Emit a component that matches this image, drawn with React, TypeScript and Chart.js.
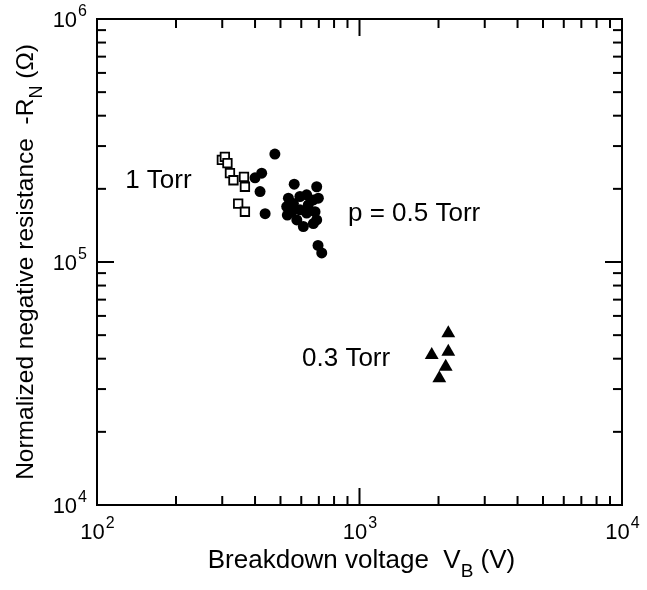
import React, { useEffect, useRef } from "react";
import { Chart, registerables } from "chart.js";

Chart.register(...registerables);

// 1 Torr (open squares)
const torr1V = [299, 307, 314, 321, 331, 363, 366, 345, 366];
const torr1R = [263000, 271000, 255000, 232000, 217000, 224000, 204000, 174000, 161000];

// p = 0.5 Torr (filled circles)
const torr05V = [476, 424, 400, 418, 437, 564, 687, 536, 528, 531, 560, 593, 629, 667, 697, 593, 629, 677, 687, 611, 667, 577, 638, 552, 695, 718];
const torr05R = [278000, 232000, 222000, 195000, 158000, 209000, 204000, 183000, 169000, 156000, 174000, 186000, 189000, 180000, 183000, 164000, 159000, 161000, 149000, 140000, 144000, 149000, 172000, 161000, 117000, 109000];

// 0.3 Torr (filled triangles)
const torr03V = [2179, 1884, 2179, 2130, 2014];
const torr03R = [50900, 41400, 42760, 37080, 33220];

// Axes
const xMajorTicks = [100, 1000, 10000];
const xMajorExps = ["2", "3", "4"];
const xMinorTicks = [200, 300, 400, 500, 600, 700, 800, 900, 2000, 3000, 4000, 5000, 6000, 7000, 8000, 9000];
const yMajorTicks = [10000, 100000, 1000000];
const yMajorExps = ["4", "5", "6"];
const yMinorTicks = [20000, 30000, 40000, 50000, 60000, 70000, 80000, 90000, 200000, 300000, 400000, 500000, 600000, 700000, 800000, 900000];

// Annotations
const noteTexts = ["1 Torr", "p = 0.5 Torr", "0.3 Torr"];
const noteV = [128, 904, 604];
const noteR = [201600, 147500, 37330];

const FONT = "'Liberation Sans', Arial, Helvetica, sans-serif";

const toPts = (xs: number[], ys: number[]) => xs.map((x, i) => ({ x, y: ys[i] }));

const framePlugin = {
  id: "frame",
  afterDatasetsDraw(chart: any) {
    const { ctx, chartArea: a, scales } = chart;
    const xs = scales.x;
    const ys = scales.y;
    ctx.save();
    ctx.strokeStyle = "#000";
    ctx.fillStyle = "#000";
    ctx.lineWidth = 2;
    ctx.strokeRect(a.left, a.top, a.right - a.left, a.bottom - a.top);

    const line = (x1: number, y1: number, x2: number, y2: number) => {
      ctx.beginPath();
      ctx.moveTo(x1, y1);
      ctx.lineTo(x2, y2);
      ctx.stroke();
    };
    const MAJ = 17;
    const MIN = 9;
    xMajorTicks.forEach((v) => {
      const p = xs.getPixelForValue(v);
      line(p, a.bottom, p, a.bottom - MAJ);
      line(p, a.top, p, a.top + MAJ);
    });
    xMinorTicks.forEach((v) => {
      const p = xs.getPixelForValue(v);
      line(p, a.bottom, p, a.bottom - MIN);
      line(p, a.top, p, a.top + MIN);
    });
    yMajorTicks.forEach((v) => {
      const p = ys.getPixelForValue(v);
      line(a.left, p, a.left + MAJ, p);
      line(a.right, p, a.right - MAJ, p);
    });
    yMinorTicks.forEach((v) => {
      const p = ys.getPixelForValue(v);
      line(a.left, p, a.left + MIN, p);
      line(a.right, p, a.right - MIN, p);
    });

    // tick labels
    const baseFont = `22px ${FONT}`;
    const supFont = `16px ${FONT}`;
    const measure = (t: string, f: string) => {
      ctx.font = f;
      return ctx.measureText(t).width;
    };
    ctx.textBaseline = "alphabetic";
    ctx.textAlign = "left";
    xMajorTicks.forEach((v, i) => {
      const p = xs.getPixelForValue(v);
      const w1 = measure("10", baseFont);
      const w2 = measure(xMajorExps[i], supFont);
      const x0 = p - (w1 + w2) / 2;
      const by = a.bottom + 34;
      ctx.font = baseFont;
      ctx.fillText("10", x0, by);
      ctx.font = supFont;
      ctx.fillText(xMajorExps[i], x0 + w1 + 1, by - 11);
    });
    yMajorTicks.forEach((v, i) => {
      const p = ys.getPixelForValue(v);
      const w1 = measure("10", baseFont);
      const w2 = measure(yMajorExps[i], supFont);
      const right = a.left - 10;
      const x0 = right - w1 - w2 - 1;
      const by = p + 8;
      ctx.font = baseFont;
      ctx.fillText("10", x0, by);
      ctx.font = supFont;
      ctx.fillText(yMajorExps[i], x0 + w1 + 1, by - 11);
    });

    const drawParts = (parts: any[], cx: number, by: number) => {
      const total = parts.reduce((s: number, p: any) => s + measure(p.t, p.f), 0);
      let x = cx - total / 2;
      parts.forEach((p: any) => {
        ctx.font = p.f;
        ctx.fillText(p.t, x, by + p.dy);
        x += ctx.measureText(p.t).width;
      });
    };

    // x title
    const xtFont = `26px ${FONT}`;
    const xsFont = `19px ${FONT}`;
    drawParts(
      [
        { t: "Breakdown voltage  V", f: xtFont, dy: 0 },
        { t: "B", f: xsFont, dy: 9 },
        { t: " (V)", f: xtFont, dy: 0 },
      ],
      (a.left + a.right) / 2 + 2,
      568
    );

    // y title
    const ytFont = `24.5px ${FONT}`;
    const ysFont = `18px ${FONT}`;
    ctx.save();
    ctx.translate(33, (a.top + a.bottom) / 2);
    ctx.rotate(-Math.PI / 2);
    drawParts(
      [
        { t: "Normalized negative resistance  -R", f: ytFont, dy: 0 },
        { t: "N", f: ysFont, dy: 9 },
        { t: " (\u03A9)", f: ytFont, dy: 0 },
      ],
      0,
      0
    );
    ctx.restore();

    // annotations
    ctx.font = `26px ${FONT}`;
    noteTexts.forEach((t, i) => {
      ctx.fillText(t, xs.getPixelForValue(noteV[i]), ys.getPixelForValue(noteR[i]));
    });
    ctx.restore();
  },
};

const App = () => {
  const ref = useRef<HTMLCanvasElement>(null);
  useEffect(() => {
    const chart = new Chart(ref.current as HTMLCanvasElement, {
      type: "scatter",
      data: {
        datasets: [
          {
            label: "1 Torr",
            data: toPts(torr1V, torr1R),
            pointStyle: "rect",
            pointRadius: 6,
            backgroundColor: "#fff",
            borderColor: "#000",
            borderWidth: 1.8,
          },
          {
            label: "0.5 Torr",
            data: toPts(torr05V, torr05R),
            pointStyle: "circle",
            pointRadius: 5.5,
            backgroundColor: "#000",
            borderColor: "#000",
            borderWidth: 0,
          },
          {
            label: "0.3 Torr",
            data: toPts(torr03V, torr03R),
            pointStyle: "triangle",
            pointRadius: 8,
            backgroundColor: "#000",
            borderColor: "#000",
            borderWidth: 0,
          },
        ],
      },
      options: {
        responsive: false,
        animation: false,
        devicePixelRatio: 1,
        layout: { padding: { left: 97, top: 19, right: 25, bottom: 85 } },
        plugins: { legend: { display: false }, tooltip: { enabled: false } },
        scales: {
          x: { type: "logarithmic", min: 100, max: 10000, display: false },
          y: { type: "logarithmic", min: 10000, max: 1000000, display: false },
        },
      },
      plugins: [framePlugin],
    } as any);
    return () => chart.destroy();
  }, []);
  return (
    <div style={{ position: "fixed", left: 0, top: 0, width: 647, height: 590, background: "#fff" }}>
      <canvas ref={ref} width={647} height={590} style={{ display: "block" }} />
    </div>
  );
};

export default App;
